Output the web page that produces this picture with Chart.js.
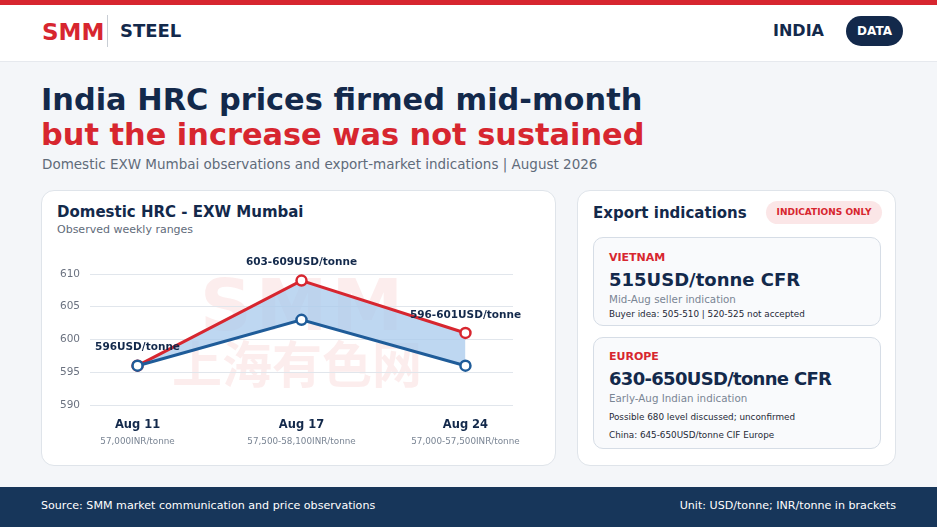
<!DOCTYPE html>
<html>
<head>
<meta charset="utf-8">
<script src="https://cdn.jsdelivr.net/npm/chart.js@4"></script>
<style>
  * { box-sizing: border-box; margin: 0; padding: 0; }
  body { width: 937px; height: 527px; background: #f4f6f9; font-family: "DejaVu Sans", sans-serif; position: relative; overflow: hidden; color: #13294b; }
  .abs { position: absolute; white-space: nowrap; }
  #topbar { left: 0; top: 0; width: 937px; height: 5px; background: #d7262f; }
  #header { left: 0; top: 5px; width: 937px; height: 57px; background: #fff; border-bottom: 1px solid #e6e9ee; }
  .card { background: #fff; border: 1px solid #dfe4ea; border-radius: 13px; }
  .box { background: #f9fafc; border: 1px solid #d6dde6; border-radius: 10px; }
  #footer { left: 0; top: 487px; width: 937px; height: 40px; background: #17365a; }
</style>
</head>
<body>
<div class="abs" id="topbar"></div>
<div class="abs" id="header"></div>
<div class="abs" style="left:42px;top:19px;font-size:23px;font-weight:bold;color:#d7262f;">SMM</div>
<div class="abs" style="left:107px;top:15px;width:1px;height:32px;background:#c8cdd4;"></div>
<div class="abs" style="left:120px;top:20px;font-size:18px;font-weight:bold;color:#13294b;">STEEL</div>
<div class="abs" style="left:773px;top:21px;font-size:16px;font-weight:bold;color:#13294b;">INDIA</div>
<div class="abs" style="left:846px;top:16px;width:57px;height:30px;border-radius:15px;background:#13294b;color:#fff;font-size:12px;font-weight:bold;text-align:center;line-height:30px;">DATA</div>

<div class="abs" style="left:41px;top:82px;font-size:30.4px;font-weight:bold;color:#13294b;">India HRC prices firmed mid-month</div>
<div class="abs" style="left:41px;top:117px;font-size:30.4px;font-weight:bold;color:#d7262f;">but the increase was not sustained</div>
<div class="abs" style="left:42px;top:156px;font-size:13.5px;color:#5f6b7a;">Domestic EXW Mumbai observations and export-market indications | August 2026</div>

<div class="abs card" style="left:41px;top:190px;width:515px;height:276px;"></div>
<div class="abs" style="left:57px;top:203px;font-size:15px;font-weight:bold;color:#13294b;">Domestic HRC - EXW Mumbai</div>
<div class="abs" style="left:57px;top:223px;font-size:11px;color:#5f6b7a;">Observed weekly ranges</div>
<div class="abs" style="left:200px;top:263px;font-size:72px;font-weight:bold;color:rgba(220,50,60,0.09);letter-spacing:4px;">SMM</div>
<div class="abs" style="left:172px;top:325px;font-size:50px;font-weight:bold;font-family:'Noto Sans CJK SC';color:rgba(220,50,60,0.09);">上海有色网</div>
<div class="abs" style="left:50px;top:246px;width:490px;height:210px;"><canvas id="c"></canvas></div>

<div class="abs card" style="left:577px;top:190px;width:319px;height:276px;"></div>
<div class="abs" style="left:593px;top:204px;font-size:15px;font-weight:bold;color:#13294b;">Export indications</div>
<div class="abs" style="left:766px;top:201px;width:116px;height:23px;border-radius:12px;background:#fbe6e7;color:#d7262f;font-size:9px;font-weight:bold;text-align:center;line-height:23px;">INDICATIONS ONLY</div>

<div class="abs box" style="left:593px;top:237px;width:288px;height:89px;"></div>
<div class="abs" style="left:609px;top:251px;font-size:11px;font-weight:bold;color:#d7262f;">VIETNAM</div>
<div class="abs" style="left:609px;top:269px;font-size:18px;font-weight:bold;color:#13294b;">515USD/tonne CFR</div>
<div class="abs" style="left:609px;top:293px;font-size:10.3px;color:#7a8594;">Mid-Aug seller indication</div>
<div class="abs" style="left:609px;top:309px;font-size:8.8px;color:#1f2937;">Buyer idea: 505-510 | 520-525 not accepted</div>

<div class="abs box" style="left:593px;top:337px;width:288px;height:112px;"></div>
<div class="abs" style="left:609px;top:350px;font-size:11px;font-weight:bold;color:#d7262f;">EUROPE</div>
<div class="abs" style="left:609px;top:368px;font-size:18px;font-weight:bold;color:#13294b;letter-spacing:-0.7px;">630-650USD/tonne CFR</div>
<div class="abs" style="left:609px;top:392px;font-size:10.3px;color:#7a8594;">Early-Aug Indian indication</div>
<div class="abs" style="left:609px;top:412px;font-size:8.8px;color:#1f2937;">Possible 680 level discussed; unconfirmed</div>
<div class="abs" style="left:609px;top:430px;font-size:8.8px;color:#1f2937;">China: 645-650USD/tonne CIF Europe</div>

<div class="abs" id="footer"></div>
<div class="abs" style="left:41px;top:499px;font-size:11.1px;color:#fff;">Source: SMM market communication and price observations</div>
<div class="abs" style="right:41px;top:499px;font-size:11.1px;color:#fff;">Unit: USD/tonne; INR/tonne in brackets</div>

<script>
// weekly observations
var weeks = ['Aug 11', 'Aug 17', 'Aug 24'];
var lowUSD = [596, 603, 596];
var highUSD = [596, 609, 601];
var rangeLabels = ['596USD/tonne', '603-609USD/tonne', '596-601USD/tonne'];
var inrLabels = ['57,000INR/tonne', '57,500-58,100INR/tonne', '57,000-57,500INR/tonne'];
var yTicks = [590, 595, 600, 605, 610];

// labels above the high line and week names under the axis
var labelPlugin = {
  id: 'labelPlugin',
  afterDatasetsDraw: function(chart) {
    var ctx = chart.ctx;
    var xs = chart.scales.x, ys = chart.scales.y;
    ctx.save();
    ctx.textAlign = 'center';
    ctx.textBaseline = 'middle';
    weeks.forEach(function(w, i) {
      var px = xs.getPixelForValue(i);
      ctx.fillStyle = '#13294b';
      ctx.font = 'bold 10.5px "DejaVu Sans"';
      ctx.fillText(rangeLabels[i], px, ys.getPixelForValue(highUSD[i]) - 18);
      ctx.font = 'bold 11.5px "DejaVu Sans"';
      ctx.fillText(w, px, chart.chartArea.bottom + 20);
      ctx.fillStyle = '#7a8594';
      ctx.font = '8.8px "DejaVu Sans"';
      ctx.fillText(inrLabels[i], px, chart.chartArea.bottom + 37);
    });
    ctx.restore();
  }
};

var ctx = document.getElementById('c').getContext('2d');
new Chart(ctx, {
  type: 'line',
  data: {
    datasets: [{
      label: 'Low',
      data: lowUSD.map(function(v, i) { return {x: i, y: v}; }),
      borderColor: '#1f5c99',
      borderWidth: 3,
      pointRadius: 5,
      pointBorderWidth: 2.5,
      pointBackgroundColor: '#fff',
      pointBorderColor: '#1f5c99',
      fill: false
    }, {
      label: 'High',
      data: highUSD.map(function(v, i) { return {x: i, y: v}; }),
      borderColor: '#d7262f',
      borderWidth: 3,
      pointRadius: 5,
      pointBorderWidth: 2.5,
      pointBackgroundColor: '#fff',
      pointBorderColor: '#d7262f',
      backgroundColor: 'rgba(168,202,236,0.75)',
      fill: '-1'
    }]
  },
  options: {
    responsive: true,
    maintainAspectRatio: false,
    animation: false,
    clip: false,
    layout: { padding: { top: 28, right: 27, bottom: 51, left: 0 } },
    plugins: { legend: { display: false }, tooltip: { enabled: false } },
    scales: {
      x: { type: 'linear', min: -0.29, max: 2.29, display: false },
      y: {
        min: 590, max: 610,
        afterFit: function(s) { s.width = 40; },
        afterBuildTicks: function(s) { s.ticks = yTicks.map(function(v) { return {value: v}; }); },
        border: { display: false },
        grid: { color: '#e1e6ec', lineWidth: 1, drawTicks: false },
        ticks: { padding: 10, color: '#6b7280', font: { size: 10.5, family: 'DejaVu Sans' } }
      }
    }
  },
  plugins: [labelPlugin]
});
</script>
</body>
</html>
